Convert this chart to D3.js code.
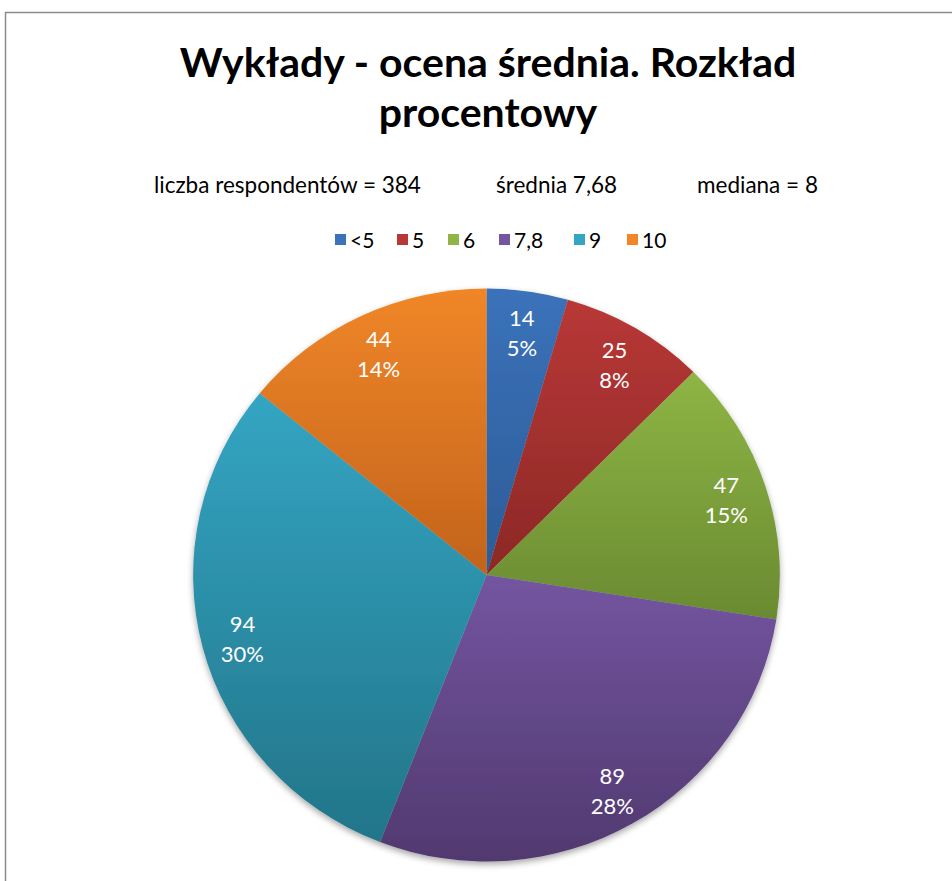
<!DOCTYPE html>
<html><head><meta charset="utf-8">
<script src="https://cdn.jsdelivr.net/npm/d3@7"></script>
<style>body{margin:0;background:#fff;}svg{display:block;font-family:Lato,"Open Sans",sans-serif;}</style>
</head><body>
<svg id="c" width="952" height="881"></svg>
<script>
const categories = ["<5","5","6","7,8","9","10"];
const counts = [14,25,47,89,94,44];
const percentLabels = ["5%","8%","15%","28%","30%","14%"];
const topColors = ["#3b72ba","#b83836","#8eb545","#7355a0","#34a5c3","#f08628"];
const bottomColors = ["#2c5b97","#8c2826","#6a8a31","#51396f","#227589","#c2631c"];
const titleLines = ["Wykłady - ocena średnia. Rozkład","procentowy"];
const statTexts = ["liczba respondentów = 384","średnia 7,68","mediana = 8"];

const svg = d3.select("#c");
const defs = svg.append("defs");
categories.forEach((c,i)=>{
  const g = defs.append("linearGradient").attr("id","g"+i).attr("x1",0).attr("y1",0).attr("x2",0).attr("y2",1);
  g.append("stop").attr("offset","0%").attr("stop-color",topColors[i]);
  g.append("stop").attr("offset","100%").attr("stop-color",bottomColors[i]);
});
const f = defs.append("filter").attr("id","sh").attr("x","-10%").attr("y","-10%").attr("width","120%").attr("height","120%");
f.append("feDropShadow").attr("dx",0).attr("dy",3).attr("stdDeviation",3).attr("flood-color","#000").attr("flood-opacity",0.35);

// frame
svg.append("path").attr("d","M5.5,881 L5.5,12.5 L952,12.5").attr("fill","none").attr("stroke","#8c8c8c").attr("stroke-width",1.5);

// title
svg.append("text").attr("x",488).attr("text-anchor","middle").attr("font-weight","bold").attr("font-size",41).attr("fill","#000")
  .selectAll("tspan").data(titleLines).join("tspan").attr("x",488).attr("y",(d,i)=>77+i*50).text(d=>d);

// stats
const statX = [154,496,697];
svg.selectAll("text.stat").data(statTexts).join("text").attr("class","stat")
  .attr("x",(d,i)=>statX[i]).attr("y",193).attr("font-size",22.5).attr("fill","#000").text(d=>d);

// legend
const legX = [335,397,448,499,574,627];
const leg = svg.selectAll("g.leg").data(categories).join("g").attr("class","leg").attr("transform",(d,i)=>`translate(${legX[i]},240)`);
leg.append("rect").attr("x",0).attr("y",-6).attr("width",11).attr("height",11).attr("fill",(d,i)=>topColors[i]);
leg.append("text").attr("x",15).attr("y",8).attr("font-size",21).attr("fill","#000").text(d=>d);

// pie (slightly wider than tall, as in the reference)
const cx = 486.5, cy = 575, R = 286.5, sx = 1.024;
const pie = d3.pie().sort(null).value(d=>d)(counts);
const arc = d3.arc().innerRadius(0).outerRadius(R);
const lab = d3.arc().innerRadius(R*0.86).outerRadius(R*0.86);
const root = svg.append("g").attr("transform",`translate(${cx},${cy})`);
root.append("g").attr("transform",`scale(${sx},1)`).attr("filter","url(#sh)").selectAll("path").data(pie).join("path")
  .attr("d",arc).attr("fill",(d,i)=>`url(#g${i})`);
const lt = root.selectAll("text.lbl").data(pie).join("text").attr("class","lbl")
  .attr("transform",d=>{const c=lab.centroid(d);return `translate(${c[0]*sx},${c[1]})`;})
  .attr("text-anchor","middle").attr("fill","#fff").attr("font-size",22);
lt.append("tspan").attr("x",0).attr("y",-5).text(d=>d.data);
lt.append("tspan").attr("x",0).attr("y",25).text((d,i)=>percentLabels[i]);
</script>
</body></html>
